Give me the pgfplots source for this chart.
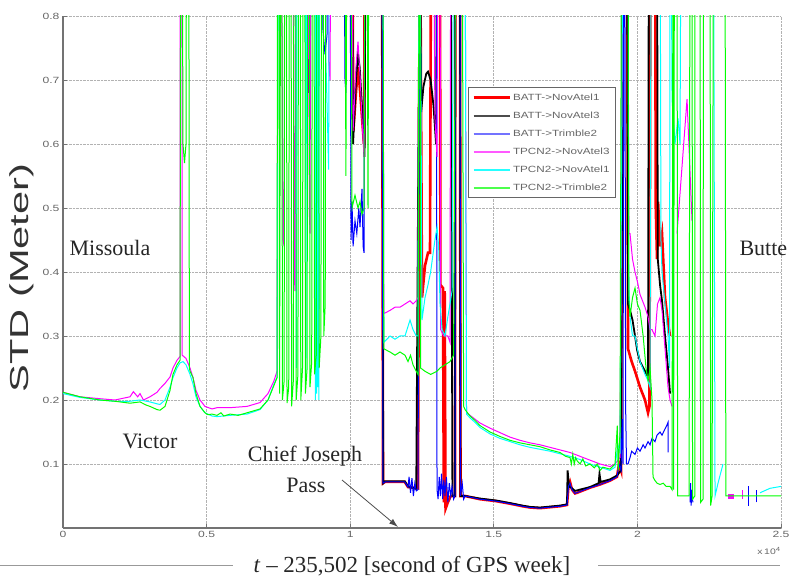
\documentclass[border=0pt]{standalone}
\usepackage{fontspec}
\setmainfont{Liberation Serif}
\newfontfamily\arial{Liberation Sans}
\usepackage{graphicx}
\usepackage{pgfplots}
\pgfplotsset{compat=1.18}
\usetikzlibrary{arrows.meta}
\newcommand{\tl}[1]{\scalebox{1.35}[1]{#1}}
\newcommand{\lgd}[1]{\scalebox{1.3}[1]{#1}}
\definecolor{tk}{gray}{0.4}
\definecolor{rd}{rgb}{1,0,0}
\definecolor{bl}{rgb}{0,0,1}
\definecolor{mg}{rgb}{1,0,1}
\definecolor{cy}{rgb}{0,1,1}
\definecolor{gr}{rgb}{0,1,0}
\begin{document}
\begin{tikzpicture}[x=1pt,y=1pt]
\path[use as bounding box] (0,0) rectangle (790,578);
\begin{axis}[
 at={(63pt,50pt)}, anchor=south west, scale only axis, width=718pt, height=512pt,
 xmin=0, xmax=25000, ymin=0, ymax=0.8,
 axis x line*=bottom, axis y line*=left,
 axis line style={-, draw=black!55, line width=1.3pt},
 xtick={0,5000,10000,15000,20000,25000},
 xticklabels={\tl{0},\tl{0.5},\tl{1},\tl{1.5},\tl{2},\tl{2.5}},
 scaled x ticks=false,
 ytick={0.1,0.2,0.3,0.4,0.5,0.6,0.7,0.8},
 yticklabel={\tl{\pgfmathprintnumber[assume math mode=true,fixed,precision=1]{\tick}}},
 ticklabel style={font=\arial\fontsize{9}{9}\selectfont, text=tk},
 tick style={black!55, line width=0.8pt}, major tick length=4pt,
 grid=major, major grid style={densely dotted, black!30, line width=0.7pt},
 unbounded coords=jump,
 legend style={at={(0.564,0.861)}, anchor=north west, fill=white,
   font=\arial\fontsize{9}{10}\selectfont, row sep=6pt, inner xsep=4pt, inner ysep=4pt,
   /tikz/every node/.append style={text=tk}},
 every axis legend/.append style={draw=black!60, line width=0.9pt},
 legend cell align=left,
]
% small extra marks near Butte
\addplot[mg, line width=5pt, forget plot] coordinates {(23150,0.049)(23380,0.049)};
\addplot[bl, line width=0.8pt, forget plot] coordinates {(23850,0.035)(23850,0.065)(23900,nan)(24150,0.04)(24150,0.06)};
\addplot[mg, line width=0.8pt, forget plot] coordinates {(23650,0.045)(23650,0.06)};
% BATT->NovAtel1
\addplot[rd, line width=2.6pt, forget plot] coordinates {
(8531,1.0)(8566,0.68)(8601,1.0)
(10063,1.0)(10110,0.62)(10200,0.68)(10272,0.72)(10350,0.68)(10430,0.63)(10481,0.6)(10516,1.0)
(11108,1.0)(11142,0.07)(11212,0.072)(11900,0.072)(12013,0.064)(12361,0.062)(12431,1.0)(12500,0.36)(12605,0.41)(12709,0.43)(12779,0.43)(12820,1.0)
(13127,1.0)(13140,0.38)(13230,0.375)(13260,0.04)(13290,0.37)(13320,0.03)(13400,0.04)(13500,0.05)(13649,0.05)(13660,1.0)(13823,1.0)(13840,0.05)(14000,0.05)(14520,0.045)(15077,0.042)(15564,0.038)(16000,0.034)(16261,0.032)(16609,0.031)(17305,0.034)(17549,0.036)(17600,0.065)(17654,0.072)(17723,0.06)(17828,0.054)(17897,0.055)(18350,0.063)(18699,0.068)(19047,0.074)(19290,0.08)(19360,0.1)(19430,0.09)(19499,1.0)(19640,1.0)(19673,0.28)(19800,0.26)(19917,0.245)(20091,0.22)(20265,0.2)(20370,0.18)(20420,0.19)(20460,1.0)(20613,1.0)(20640,0.5)(20683,0.42)(20720,0.51)(20788,0.44)(20857,0.46)(20920,0.4)(20962,0.36)(21066,0.32)(21136,0.3)
};
% BATT->NovAtel3
\addplot[black, line width=1.8pt, forget plot] coordinates {
(8531,1.0)(8566,0.68)(8601,1.0)
(10063,1.0)(10100,0.6)(10200,0.7)(10272,0.74)(10330,0.72)(10420,0.65)(10500,0.58)(10540,1.0)
(11108,1.0)(11142,0.267)(11150,0.07)(11212,0.073)(11900,0.073)(12013,0.065)(12300,0.061)(12431,1.0)(12470,0.65)(12550,0.69)(12650,0.71)(12709,0.713)(12800,0.7)(12900,0.66)(12990,0.6)(13023,1.0)
(13500,1.0)(13545,0.283)(13560,0.05)(13649,0.05)(13660,1.0)(13823,1.0)(13840,0.05)(14000,0.05)(14520,0.046)(15077,0.043)(15564,0.039)(16000,0.035)(16261,0.033)(16609,0.032)(17305,0.035)(17549,0.037)(17570,0.09)(17620,0.065)(17723,0.062)(17828,0.058)(18350,0.064)(18650,0.07)(18680,0.085)(18720,0.072)(19047,0.076)(19290,0.082)(19430,0.09)(19499,1.0)(19640,1.0)(19673,0.35)(19743,0.34)(19830,0.325)(19917,0.3)(19990,0.278)(20091,0.26)(20265,0.245)(20370,0.236)(20400,1.0)(20683,1.0)(20710,0.42)(20788,0.38)(20857,0.355)(20962,0.3)(21066,0.25)(21136,0.21)
};
% BATT->Trimble2
\addplot[bl, line width=1pt, forget plot] coordinates {
(9018,1.0)(9050,0.78)(9122,0.74)(9192,0.77)(9227,1.0)
(9780,1.0)(9819,0.7)(9850,0.68)(9889,1.0)
(9993,1.0)(10030,0.45)(10063,0.51)(10100,0.44)(10167,0.48)(10230,0.46)(10300,0.5)(10341,0.47)(10411,0.53)(10450,0.44)(10481,0.43)(10500,1.0)
(11108,1.0)(11142,0.07)(11212,0.072)(11900,0.072)(12013,0.064)(12050,0.08)(12100,0.055)(12150,0.078)(12200,0.05)(12250,0.07)(12300,0.058)(12361,0.06)(12431,1.0)
(13000,1.0)(13023,0.06)(13060,0.045)(13100,0.08)(13140,0.05)(13180,0.085)(13220,0.045)(13260,0.075)(13300,0.05)(13350,0.08)(13400,0.04)(13450,0.07)(13500,0.05)(13545,0.065)(13600,0.045)(13649,0.05)(13660,1.0)(13823,1.0)(13840,0.05)(13900,0.07)(13950,0.045)(14000,0.05)(14520,0.045)(15077,0.042)(15564,0.038)(16000,0.034)(16261,0.032)(16609,0.031)(17305,0.034)(17549,0.036)(17600,0.065)(17654,0.07)(17723,0.06)(17828,0.054)(18350,0.063)(18699,0.068)(19047,0.074)(19290,0.08)(19360,0.1)(19430,0.09)(19470,0.17)(19499,0.1)(19530,1.0)(19560,1.0)(19590,0.19)(19620,0.1)(19673,0.1)(19743,0.11)(19800,0.12)(19917,0.115)(20000,0.125)(20091,0.12)(20200,0.13)(20265,0.125)(20370,0.135)(20440,0.13)(20509,0.14)(20613,0.135)(20683,0.145)(20788,0.15)(20857,0.145)(20962,0.155)(21020,0.16)(21066,0.165)(21070,0.118)
(21071,nan)(21832,0.04)(21850,0.07)(21870,0.035)(21902,0.06)(21930,0.04)
};
% TPCN2->NovAtel3
\addplot[mg, line width=1pt, forget plot] coordinates {
(0,0.212)(592,0.205)(1288,0.202)(1811,0.2)(2333,0.205)(2450,0.213)(2600,0.205)(2681,0.21)(2800,0.2)(3029,0.205)(3273,0.212)(3378,0.218)(3552,0.226)(3726,0.236)(3830,0.25)(3969,0.262)(4074,0.268)(4085,1.0)(4140,1.0)(4150,0.27)(4283,0.265)(4422,0.25)(4527,0.235)(4631,0.215)(4770,0.2)(4944,0.19)(5188,0.186)(5362,0.188)(5815,0.188)(6407,0.19)(6860,0.196)(7138,0.21)(7347,0.23)(7452,0.245)(7486,1.0)(7600,1.0)(7660,0.45)(7700,0.44)(7720,1.0)(8009,1.0)(8050,0.4)(8078,0.37)(8100,1.0)(8531,1.0)(8580,0.49)(8601,0.46)(8630,1.0)(9227,1.0)(9250,0.73)(9297,0.7)(9330,1.0)
(10063,1.0)(10100,0.62)(10200,0.72)(10272,0.76)(10350,0.7)(10420,0.63)(10481,0.58)(10520,1.0)
(11142,1.0)(11170,0.335)(11386,0.34)(11560,0.345)(11734,0.345)(11908,0.35)(12083,0.355)(12187,0.35)(12300,0.355)(12361,0.36)(12400,1.0)(12900,1.0)(12950,0.64)(13023,0.58)(13050,1.0)(13127,1.0)(13150,0.31)(13250,0.3)(13400,0.3)(13475,0.29)(13500,1.0)
(14000,1.0)(14050,0.18)(14172,0.176)(14346,0.17)(14520,0.164)(14868,0.156)(15216,0.149)(15564,0.142)(15913,0.137)(16261,0.133)(16609,0.13)(16957,0.126)(17305,0.122)(17654,0.118)(18002,0.112)(18350,0.106)(18699,0.1)(19047,0.096)(19221,0.1)(19395,0.11)(19499,1.0)(19673,1.0)(19700,0.46)(19743,0.46)(19830,0.42)(19917,0.4)(20000,0.385)(20091,0.365)(20265,0.345)(20370,0.33)(20439,0.31)(20509,0.31)(20613,0.3)(20700,0.35)(20788,0.36)(20857,0.34)(20962,0.28)(21066,0.22)(21136,0.2)(21206,0.19)
(21240,nan)(21380,0.46)(21728,0.67)(21902,0.48)
};
% TPCN2->NovAtel1
\addplot[cy, line width=1pt, forget plot] coordinates {
(0,0.21)(592,0.204)(1288,0.2)(1811,0.198)(2333,0.198)(2681,0.2)(3029,0.197)(3273,0.194)(3378,0.193)(3552,0.2)(3726,0.22)(3830,0.235)(3969,0.25)(4074,0.258)(4178,0.26)(4283,0.255)(4422,0.24)(4527,0.225)(4631,0.205)(4770,0.19)(4944,0.18)(5188,0.175)(5362,0.174)(5815,0.176)(6407,0.178)(6860,0.185)(7138,0.2)(7347,0.225)(7452,0.235)(7500,1.0)(8110,1.0)(8130,0.25)(8150,1.0)(8440,1.0)(8460,0.23)(8480,1.0)(8775,1.0)(8790,0.2)(8810,1.0)(8830,0.21)(8850,1.0)(8870,0.22)(8890,1.0)(8910,0.2)(8930,1.0)(9122,1.0)(9150,0.74)(9200,0.65)(9250,0.56)(9270,1.0)
(11142,1.0)(11170,0.29)(11386,0.3)(11560,0.295)(11734,0.3)(11908,0.3)(12013,0.315)(12083,0.325)(12187,0.31)(12300,0.3)(12361,0.3)(12400,1.0)(12431,1.0)(12500,0.325)(12605,0.36)(12709,0.38)(12800,0.4)(12950,0.45)(13023,0.47)(13080,0.44)(13127,0.35)(13200,0.31)(13301,0.3)(13400,0.33)(13475,0.35)(13545,0.37)(13600,1.0)
(14000,1.0)(14050,0.178)(14172,0.172)(14346,0.165)(14520,0.157)(14868,0.147)(15216,0.14)(15564,0.135)(15913,0.13)(16261,0.126)(16609,0.123)(16957,0.12)(17305,0.116)(17654,0.112)(18002,0.107)(18350,0.1)(18699,0.095)(19047,0.09)(19221,0.095)(19320,0.13)(19395,0.12)(19499,1.0)(19673,1.0)(19700,0.38)(19743,0.33)(19830,0.3)(19917,0.3)(20000,0.28)(20091,0.26)(20265,0.24)(20370,0.23)(20440,0.22)(20480,1.0)(20790,1.0)(20820,0.45)(20857,0.4)(20962,0.35)(21066,0.3)(21120,0.25)(21136,1.0)(21170,1.0)(21206,0.67)(21310,0.6)(21415,0.64)(21484,0.6)(21520,1.0)(22650,1.0)(22703,0.05)(22807,0.07)(22981,0.1)
(23030,nan)(24269,0.055)(24617,0.062)(25000,0.065)
};
% TPCN2->Trimble2
\addplot[gr, line width=1pt, forget plot] coordinates {
(0,0.212)(592,0.205)(1288,0.2)(1811,0.198)(2333,0.195)(2681,0.197)(2900,0.192)(3029,0.19)(3273,0.185)(3378,0.184)(3552,0.19)(3726,0.215)(3830,0.24)(3969,0.255)(4074,0.262)(4100,1.0)(4150,1.0)(4178,0.6)(4230,0.57)(4283,0.6)(4300,1.0)(4380,1.0)(4400,0.25)(4422,0.245)(4527,0.235)(4631,0.21)(4770,0.19)(4944,0.18)(5049,0.177)(5188,0.178)(5362,0.176)(5500,0.18)(5600,0.175)(5815,0.178)(6100,0.176)(6407,0.18)(6860,0.186)(7138,0.2)(7347,0.223)(7452,0.235)
(7470,1.0)(7520,1.0)(7540,0.21)(7580,1.0)(7620,1.0)(7640,0.2)(7700,0.23)(7720,1.0)(7780,1.0)(7800,0.195)(7860,0.22)(7880,1.0)(7940,1.0)(7960,0.19)(8020,0.23)(8040,1.0)(8100,1.0)(8120,0.2)(8180,0.24)(8200,1.0)(8260,1.0)(8280,0.2)(8340,0.25)(8360,1.0)(8420,1.0)(8440,0.21)(8500,0.25)(8520,1.0)(8580,1.0)(8600,0.22)(8660,0.26)(8680,1.0)(8740,1.0)(8760,0.24)(8820,0.27)(8840,1.0)(8900,1.0)(8920,0.25)(8980,0.3)(9000,1.0)(9060,1.0)(9080,0.3)(9130,0.35)(9150,1.0)
(9819,1.0)(9850,0.55)(9889,1.0)(10030,1.0)(10063,0.5)(10167,0.52)(10272,0.5)(10341,0.51)(10411,0.49)(10481,0.5)(10516,1.0)(10585,1.0)(10620,0.5)(10650,1.0)
(11142,1.0)(11170,0.28)(11386,0.275)(11560,0.27)(11734,0.275)(11908,0.27)(12013,0.26)(12100,0.27)(12187,0.255)(12300,0.245)(12361,0.24)(12400,1.0)(12431,1.0)(12450,0.25)(12600,0.245)(12800,0.24)(13023,0.245)(13127,0.25)(13301,0.255)(13475,0.26)(13600,0.27)(13680,1.0)(13900,1.0)(13950,0.19)(14000,0.185)
(14172,0.175)(14346,0.168)(14520,0.16)(14868,0.15)(15216,0.143)(15564,0.137)(15913,0.133)(16261,0.13)(16609,0.127)(16957,0.122)(17305,0.118)(17500,0.112)(17654,0.11)(17700,0.1)(17750,0.115)(17800,0.1)(17850,0.11)(17900,0.105)(18002,0.1)(18100,0.108)(18200,0.097)(18350,0.1)(18500,0.094)(18600,0.1)(18699,0.09)(18800,0.095)(19047,0.092)(19221,0.1)(19300,0.16)(19330,0.09)(19395,0.15)(19450,1.0)
(19673,1.0)(19700,0.36)(19743,0.33)(19830,0.36)(19917,0.375)(20000,0.35)(20091,0.34)(20200,0.3)(20300,0.25)(20370,0.23)(20440,0.25)(20509,0.2)(20544,0.08)(20600,0.075)(20683,0.07)(20788,0.068)(20900,0.07)(21000,0.065)(21136,0.065)(21206,0.06)
(21240,1.0)(21260,0.06)(21290,1.0)(21380,1.0)(21400,0.05)(21800,0.05)(21832,1.0)(21902,1.0)(21920,0.045)(22000,0.05)(22006,1.0)(22181,1.0)(22200,0.04)(22285,0.045)(22300,1.0)(22529,1.0)(22550,0.035)(22600,0.05)(22650,1.0)(23051,1.0)(23080,0.05)(25000,0.05)
};
% legend
\addlegendimage{legend image code/.code={\draw[rd, line width=2.6pt] (0pt,0pt) -- (36pt,0pt);}}
\addlegendentry{\lgd{BATT->NovAtel1}}
\addlegendimage{legend image code/.code={\draw[black!70, line width=2pt] (0pt,0pt) -- (36pt,0pt);}}
\addlegendentry{\lgd{BATT->NovAtel3}}
\addlegendimage{legend image code/.code={\draw[bl!55!white, line width=1.7pt] (0pt,0pt) -- (36pt,0pt);}}
\addlegendentry{\lgd{BATT->Trimble2}}
\addlegendimage{legend image code/.code={\draw[mg!65!white, line width=1.7pt] (0pt,0pt) -- (36pt,0pt);}}
\addlegendentry{\lgd{TPCN2->NovAtel3}}
\addlegendimage{legend image code/.code={\draw[cy!85!white, line width=1.7pt] (0pt,0pt) -- (36pt,0pt);}}
\addlegendentry{\lgd{TPCN2->NovAtel1}}
\addlegendimage{legend image code/.code={\draw[gr!70!white, line width=1.7pt] (0pt,0pt) -- (36pt,0pt);}}
\addlegendentry{\lgd{TPCN2->Trimble2}}
\end{axis}
% y label
\node[rotate=90, text=black!80] at (22,300) {\scalebox{1.6}[1]{\arial\fontsize{26}{26}\selectfont STD (Meter)}};
% annotations
\node[text=black!85] at (110,330) {\fontsize{22}{22}\selectfont Missoula};
\node[text=black!85, anchor=west] at (736,330) {\fontsize{22}{22}\selectfont Butte};
\node[text=black!85] at (150,137) {\fontsize{22}{22}\selectfont Victor};
\node[text=black!85] at (305,122) {\fontsize{22}{22}\selectfont Chief Joseph};
\node[text=black!85] at (306,93) {\fontsize{22}{22}\selectfont Pass};
\draw[black!70, line width=0.8pt, -{Latex[length=9pt,width=6pt]}] (342,98) -- (398,51);
% x label
\node[text=black!85] at (412,12) {\fontsize{23}{23}\selectfont \textit{t} – 235,502 [second of GPS week]};
\draw[black!40, line width=1pt] (0,12) -- (233,12);
\draw[black!40, line width=1pt] (598,12) -- (780,12);
\node[anchor=north east, text=tk, inner sep=0pt] at (781,31) {\scalebox{1.3}[1]{\arial\fontsize{8}{8}\selectfont x\,10\textsuperscript{4}}};
\end{tikzpicture}
\end{document}
